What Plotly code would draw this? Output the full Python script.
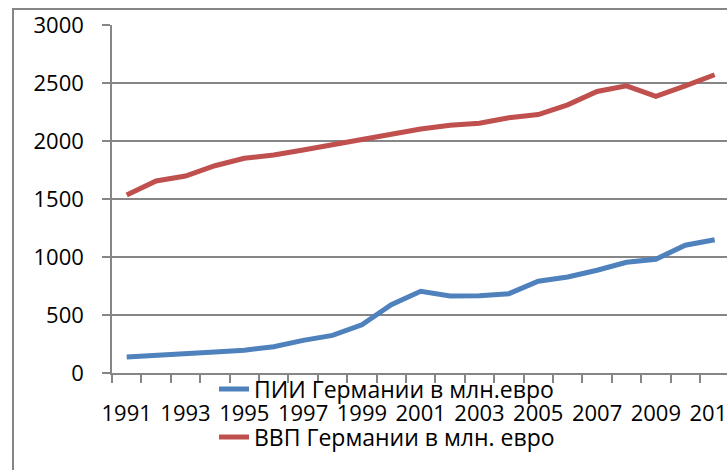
import plotly.graph_objects as go

years = [str(y) for y in range(1991, 2012)]
fdi = [137, 149, 166, 180, 197, 226, 281, 324, 416, 589, 704, 664, 667, 684,
       791, 828, 886, 955, 981, 1102, 1148]
gdp = [1534, 1655, 1698, 1787, 1851, 1880, 1923, 1969, 2015, 2055, 2104, 2136,
       2153, 2200, 2228, 2312, 2427, 2476, 2384, 2476, 2571]
tick_text = [y if i % 2 == 0 else "" for i, y in enumerate(years)]
y_ticks = [0, 500, 1000, 1500, 2000, 2500, 3000]
name_fdi = "ПИИ Германии в млн.евро"
name_gdp = "ВВП Германии в млн. евро"

FONT = "Open Sans"
GRAY = "#868686"
W, H = 727, 470
ML, MR, MT, MB = 112, 0, 25, 97
PW, PH = W - ML - MR, H - MT - MB


def px_x(p):
    return (p - ML) / PW


def px_y(p):
    return (H - MB - p) / PH


fig = go.Figure()
fig.add_trace(go.Scatter(x=years, y=fdi, mode="lines", name=name_fdi,
                         line=dict(color="#4F81BD", width=5), legend="legend",
                         showlegend=True))
fig.add_trace(go.Scatter(x=years, y=gdp, mode="lines", name=name_gdp,
                         line=dict(color="#C0504D", width=5), legend="legend2",
                         showlegend=True))

fig.update_layout(
    width=W, height=H,
    margin=dict(l=ML, r=MR, t=MT, b=MB, pad=0, autoexpand=False),
    paper_bgcolor="white", plot_bgcolor="white",
    showlegend=True,
    font=dict(family=FONT, size=22, color="black"),
    xaxis=dict(type="category", range=[-0.5, 20.42], tickmode="array",
               tickvals=years, ticktext=tick_text, tickson="boundaries",
               ticks="outside", ticklen=8, tickwidth=1.5, tickcolor=GRAY,
               showline=True, linecolor=GRAY, linewidth=1.5, showgrid=False,
               ticklabelstandoff=20, tickangle=0, automargin=False,
               ticklabeloverflow="allow",
               tickfont=dict(family=FONT, size=22, color="black")),
    yaxis=dict(range=[0, 3000], tickvals=y_ticks, ticks="outside", ticklen=8,
               tickwidth=1.5, tickcolor=GRAY, showline=True, linecolor=GRAY,
               linewidth=1.5, showgrid=True, gridcolor=GRAY, gridwidth=1.5,
               zeroline=False, ticklabelstandoff=14, automargin=False,
               tickfont=dict(family=FONT, size=22, color="black")),
    legend=dict(x=px_x(214), y=px_y(389), xanchor="left", yanchor="middle",
                bgcolor="rgba(0,0,0,0)", font=dict(family=FONT, size=23)),
    legend2=dict(x=px_x(214), y=px_y(437), xanchor="left", yanchor="middle",
                 bgcolor="rgba(0,0,0,0)", font=dict(family=FONT, size=23)),
    shapes=[dict(type="rect", xref="paper", yref="paper",
                 x0=px_x(13), x1=px_x(780), y0=px_y(9), y1=px_y(520),
                 line=dict(color=GRAY, width=2), layer="below")],
)

fig.write_html("out.html", config={"displayModeBar": False},
               post_script="document.body.style.margin='0';")
